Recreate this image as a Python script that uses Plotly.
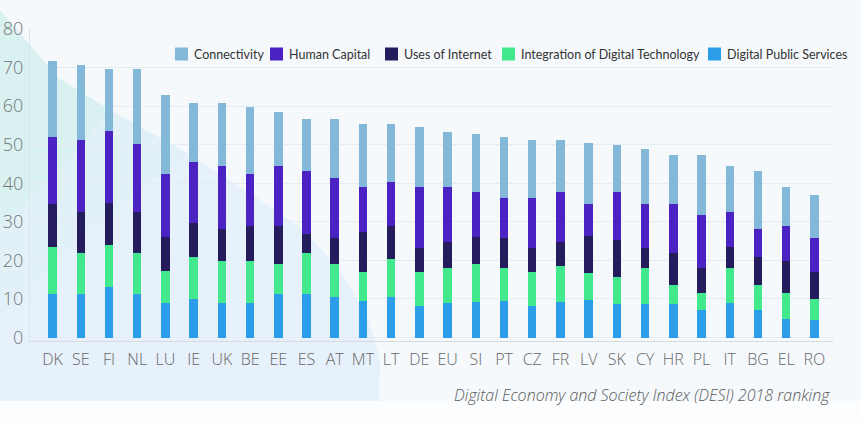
import plotly.graph_objs as go

# DESI 2018
countries = ['DK', 'SE', 'FI', 'NL', 'LU', 'IE', 'UK', 'BE', 'EE', 'ES',
             'AT', 'MT', 'LT', 'DE', 'EU', 'SI', 'PT', 'CZ', 'FR', 'LV',
             'SK', 'CY', 'HR', 'PL', 'IT', 'BG', 'EL', 'RO']

digital_public_services = [11.3, 11.3, 13.0, 11.3, 9.0, 10.1, 9.0, 9.0, 11.3, 11.3,
                           10.6, 9.6, 10.6, 8.3, 9.0, 9.2, 9.6, 8.3, 9.2, 9.7,
                           8.7, 8.7, 8.7, 7.1, 9.0, 7.1, 4.9, 4.5]
integration_digital_tech = [12.1, 10.5, 11.1, 10.5, 8.2, 10.7, 10.9, 10.9, 7.8, 10.5,
                            8.5, 7.5, 9.7, 8.8, 9.1, 9.9, 8.5, 8.8, 9.4, 7.1,
                            6.9, 9.4, 4.9, 4.4, 9.1, 6.5, 6.7, 5.6]
uses_of_internet = [11.1, 10.8, 10.9, 10.8, 8.9, 8.8, 8.2, 9.0, 9.8, 5.1,
                    6.6, 10.3, 8.6, 6.2, 6.8, 7.0, 7.6, 6.2, 6.3, 9.5,
                    9.7, 5.1, 8.2, 6.6, 5.3, 7.2, 8.3, 6.9]
human_capital = [17.6, 18.7, 18.5, 17.5, 16.2, 16.0, 16.4, 13.4, 15.6, 16.2,
                 15.6, 11.6, 11.3, 15.7, 14.1, 11.7, 10.5, 12.9, 12.9, 8.2,
                 12.5, 11.3, 12.7, 13.7, 9.2, 7.3, 9.0, 8.7]
connectivity = [19.7, 19.4, 16.1, 19.5, 20.6, 15.2, 16.3, 17.6, 14.1, 13.5,
                15.3, 16.4, 15.2, 15.5, 14.4, 14.9, 15.9, 15.1, 13.5, 15.9,
                12.0, 14.3, 12.9, 15.6, 11.9, 15.0, 10.1, 11.2]

y_ticks = [0, 10, 20, 30, 40, 50, 60, 70, 80]

# stacked bottom -> top
series = [
    ('Digital Public Services', digital_public_services, '#2c9ee9'),
    ('Integration of Digital Technology', integration_digital_tech, '#42e98c'),
    ('Uses of Internet', uses_of_internet, '#251c5e'),
    ('Human Capital', human_capital, '#4b23c2'),
    ('Connectivity', connectivity, '#84b8d8'),
]

W, H = 861, 422
L, R, T, B = 30, 28, 29, 81

# legend entries (top row, left to right) and their left pixel edges
legend_order = ['Connectivity', 'Human Capital', 'Uses of Internet',
                'Integration of Digital Technology', 'Digital Public Services']
legend_px = [175, 270, 385, 502, 708]
legend_py = 54


def to_paper(px, py):
    return (px - L) / (W - L - R), (H - B - py) / (H - T - B)


def path_from(points):
    parts = []
    for i, (px, py) in enumerate(points):
        x, y = to_paper(px, py)
        parts.append(('M' if i == 0 else 'L') + f'{x:.4f},{y:.4f}')
    return ' '.join(parts) + ' Z'


# background decoration (big soft curve on the left)
curve = [(-5, 8), (0, 10), (30, 45), (57, 77), (110, 110), (187, 153), (245, 190),
         (300, 227), (340, 270), (368, 318), (380, 360), (379, 401)]
blob = curve + [(-5, 401)]
teal1 = curve[:5] + [(60, 170), (-5, 230)]
teal2 = curve[:6] + [(90, 230), (-5, 320)]
strip = [(-5, 401), (870, 401), (870, 430), (-5, 430)]

shapes = [
    dict(type='path', xref='paper', yref='paper', path=path_from(blob),
         fillcolor='#e6f1fb', line=dict(width=0), layer='below'),
    dict(type='path', xref='paper', yref='paper', path=path_from(teal2),
         fillcolor='rgba(214,242,238,0.3)', line=dict(width=0), layer='below'),
    dict(type='path', xref='paper', yref='paper', path=path_from(teal1),
         fillcolor='rgba(208,242,232,0.4)', line=dict(width=0), layer='below'),
    dict(type='path', xref='paper', yref='paper', path=path_from(strip),
         fillcolor='#fbfdfe', line=dict(width=0), layer='below'),
]
annotations = [
    dict(text='Digital Economy and Society Index (DESI) 2018 ranking',
         xref='paper', yref='paper', x=to_paper(832, 0)[0], y=to_paper(0, 395)[1],
         xanchor='right', yanchor='middle', showarrow=False,
         font=dict(family='Open Sans', size=16, color='#5a5a5a',
                   style='italic', weight=300)),
]

colors = {name: color for name, _, color in series}
for name, px in zip(legend_order, legend_px):
    x0, y0 = to_paper(px, legend_py + 6.5)
    x1, y1 = to_paper(px + 13, legend_py - 6.5)
    shapes.append(dict(type='rect', xref='paper', yref='paper',
                       x0=x0, x1=x1, y0=y0, y1=y1,
                       fillcolor=colors[name], line=dict(width=0)))
    tx, ty = to_paper(px + 17, legend_py)
    annotations.append(dict(text=name, xref='paper', yref='paper', x=tx, y=ty,
                            xanchor='left', yanchor='middle', showarrow=False,
                            font=dict(family='Lato', size=12.5, color='#333333')))

fig = go.Figure()

for name, values, color in series:
    fig.add_trace(go.Bar(
        x=countries,
        y=values,
        name=name,
        marker=dict(color=color, line=dict(width=0)),
    ))

fig.update_layout(
    width=W,
    height=H,
    barmode='stack',
    bargap=0.7,
    paper_bgcolor='#f5f9fc',
    plot_bgcolor='rgba(0,0,0,0)',
    margin=dict(l=L, r=R, t=T, b=B, pad=0),
    font=dict(family='Lato', color='#6e6e6e'),
    showlegend=False,
    shapes=shapes,
    annotations=annotations,
)

fig.update_xaxes(
    type='category',
    range=[-0.8, 27.66],
    automargin=False,
    showgrid=False,
    showline=True,
    linecolor='#d3dae0',
    linewidth=1,
    ticks='',
    ticklabelstandoff=4,
    tickfont=dict(family='Open Sans', size=16, color='#666666', weight=300),
)

fig.update_yaxes(
    range=[-0.9, 80],
    tickvals=y_ticks,
    automargin=False,
    showgrid=True,
    gridcolor='#e4ebf1',
    gridwidth=1,
    zeroline=False,
    showline=True,
    linecolor='#dde4ea',
    ticks='',
    ticklabelstandoff=2,
    tickfont=dict(family='Open Sans', size=18, color='#777777', weight=300),
)

# page body has a default 8px margin; drop it so the figure fills the window
fig.write_html("out.html", config={'displayModeBar': False},
               post_script="document.body.style.margin = '0';")
